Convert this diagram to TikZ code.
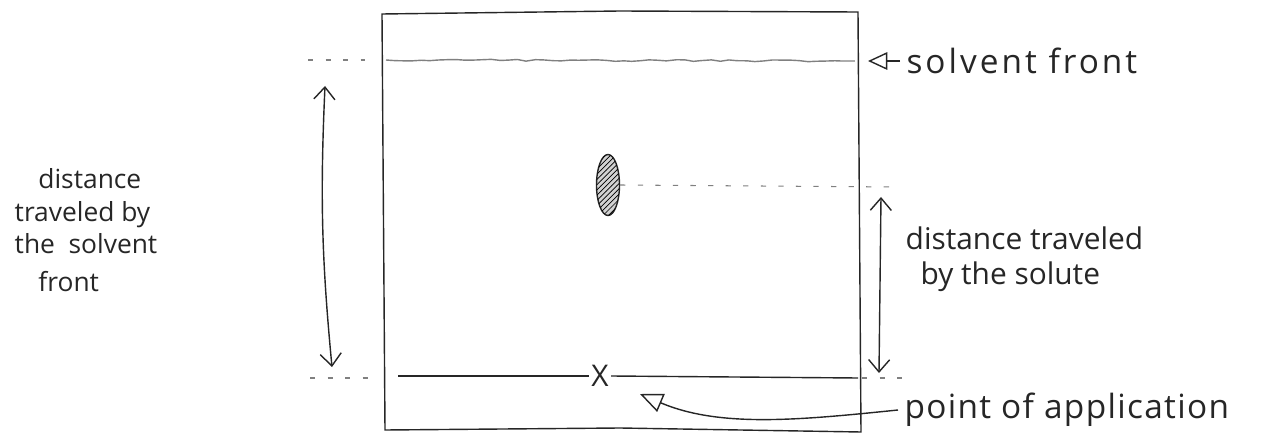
\documentclass[tikz,border=0pt]{standalone}
\usepackage{fontspec}
\setmainfont{Open Sans}
\usetikzlibrary{shapes.geometric,arrows.meta,positioning,calc,patterns,decorations.pathmorphing}
\definecolor{pencil}{HTML}{262626}
\definecolor{wash}{HTML}{808080}

\begin{document}
\begin{tikzpicture}[x=0.02cm, y=-0.02cm, >={Straight Barb[length=7pt,width=12pt]},
    font=\fontsize{17}{18}\selectfont, color=pencil, line width=0.8pt]
  \useasboundingbox (0,0) rectangle (1279,439);

  % the plate
  \draw (382,14) -- (620,11) -- (858,12) -- (861,432) -- (620,428) -- (385,430) -- cycle;

  % solvent front and point of application
  \draw[wash, decorate, decoration={random steps, segment length=5pt, amplitude=0.5pt}]
    (386,60) -- (855,61);
  \node[inner sep=1pt] (xmark) at (600,376) {X};
  \coordinate (baseL) at (398,376);
  \coordinate (baseR) at (858,378);
  \draw (baseL) -- (xmark.west);
  \draw (xmark.east) -- (baseR);

  % the solute spot
  \node[ellipse, draw, minimum width=0.46cm, minimum height=1.22cm, inner sep=0pt,
        fill=gray!35, postaction={pattern=north east lines}] (spot) at (608,185) {};

  % guide lines
  \begin{scope}[wash, line width=0.6pt, dash pattern=on 3pt off 7pt]
    \draw (308,60) -- (365,60);
    \draw (310,378) -- (368,378);
    \draw (spot.east) -- (898,187);
    \draw (862,378) -- (912,378);
  \end{scope}

  % distances
  \coordinate (solvTop) at (325,86);
  \coordinate (solvBot) at (332,367);
  \draw[<->] (solvBot) to[bend left=4] (solvTop);
  \coordinate (soluTop) at (881,197);
  \coordinate (soluBot) at (879,373);
  \draw[<->] (soluBot) -- (soluTop);

  % labels
  \node[anchor=west, font=\fontsize{19}{20}\selectfont\addfontfeatures{LetterSpace=9}]
    (frontlabel) at (900,61) {solvent\ front};
  \node[anchor=north west, align=left, inner sep=0pt,
        font=\fontsize{15}{18.5}\selectfont] (solvlabel) at (14,168)
    {\hspace{0.9em}distance\\traveled by\\the\ \ solvent\\[3pt]\hspace{0.9em}front};
  \node[anchor=north west, align=left, inner sep=0pt] (solulabel) at (905,226)
    {distance traveled\\[2pt]\hspace{0.5em}by the solute};
  \node[anchor=west, font=\fontsize{19}{20}\selectfont\addfontfeatures{LetterSpace=4}]
    (pointlabel) at (898,410) {point of application};

  \begin{scope}[-{Triangle[open, length=11pt, width=10pt]}]
    \draw (frontlabel.west) -- (868,61);
    \draw[-{Triangle[open, length=13pt, width=11pt]}]
      (pointlabel.west) .. controls (800,420) and (720,428) .. (640,394);
  \end{scope}
\end{tikzpicture}
\end{document}
